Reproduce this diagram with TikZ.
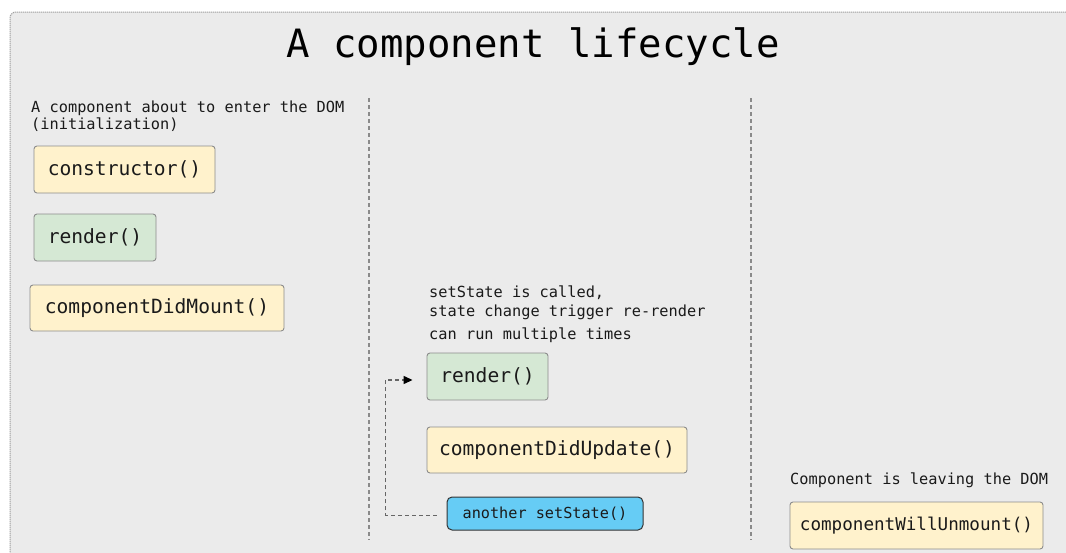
\documentclass[tikz,border=0pt]{standalone}
\usepackage{fontspec}
\setmainfont{DejaVu Sans Mono}
\usetikzlibrary{arrows.meta}
\definecolor{panelbg}{HTML}{EBEBEB}
\definecolor{panelline}{HTML}{A0A0A0}
\definecolor{yfill}{HTML}{FFF2CC}
\definecolor{gfill}{HTML}{D5E8D4}
\definecolor{bfill}{HTML}{66CCF5}
\definecolor{boxline}{HTML}{8C8C8C}
\definecolor{txt}{HTML}{1A1A1A}
\definecolor{divline}{HTML}{8A8A8A}
\tikzset{
  lifebox/.style={draw=boxline, line width=0.9pt, rounded corners=3pt, inner sep=0pt,
    font=\fontsize{19.6}{22}\selectfont, text=txt},
  ybox/.style={lifebox, fill=yfill},
  gbox/.style={lifebox, fill=gfill},
  bbox/.style={draw=black!80, line width=1pt, rounded corners=5pt, fill=bfill, inner sep=0pt,
    font=\fontsize{15.2}{18}\selectfont, text=txt},
  note/.style={anchor=base west, inner sep=0pt, font=\fontsize{15.3}{18}\selectfont, text=txt},
  divider/.style={draw=divline, line width=1.4pt, dash pattern=on 4pt off 3pt},
  loop/.style={draw=black!60, line width=1.3pt, dash pattern=on 4pt off 3pt}
}
\begin{document}
\begin{tikzpicture}[x=1pt,y=-1pt]
\useasboundingbox (0,0) rectangle (1066,552);
\clip (0,0) rectangle (1066,552);
% panel
\fill[panelbg, rounded corners=6pt] (10,570) -- (10,12) -- (1080,12) [sharp corners] -- (1080,570) -- cycle;
\draw[panelline, line width=1pt, dash pattern=on 1.2pt off 0.8pt, rounded corners=6pt] (10,570) -- (10,12) -- (1080,12);
% title
\node[inner sep=0pt, font=\fontsize{39}{44}\selectfont, text=black] (title) at (533,47) {A component lifecycle};
% dividers
\coordinate (d1t) at (369,98); \coordinate (d1b) at (369,540);
\coordinate (d2t) at (751,98); \coordinate (d2b) at (751,540);
\draw[divider] (d1t) -- (d1b);
\draw[divider] (d2t) -- (d2b);
% left column
\node[note] (n1) at (31,112) {A component about to enter the DOM};
\node[note] (n2) at (31,129) {(initialization)};
\node[ybox, minimum width=181pt, minimum height=47pt] (ctor) at (124.5,169.5) {constructor()};
\node[gbox, minimum width=122pt, minimum height=47pt] (r1) at (95,237.5) {render()};
\node[ybox, minimum width=254pt, minimum height=46pt] (dm) at (157,308) {componentDidMount()};
% middle column
\node[note] (m1) at (429,297) {setState is called,};
\node[note] (m2) at (429,316) {state change trigger re-render};
\node[note] (m3) at (429,339) {can run multiple times};
\node[gbox, minimum width=121pt, minimum height=47pt] (r2) at (487.5,376.5) {render()};
\node[ybox, minimum width=260pt, minimum height=46pt] (du) at (557,450) {componentDidUpdate()};
\node[bbox, minimum width=196pt, minimum height=33pt] (ss) at (545,513.5) {another setState()};
\draw[loop, -{Stealth[length=9pt,width=8pt,inset=0pt,color=black]}] ([xshift=-10pt,yshift=-2pt]ss.west) -| ([xshift=-41pt,yshift=-3.5pt]r2.west) -- ([xshift=-14pt,yshift=-3.5pt]r2.west);
% right column
\node[note] (u1) at (790,484) {Component is leaving the DOM};
\node[ybox, font=\fontsize{17.6}{20}\selectfont, minimum width=253pt, minimum height=47pt] (wu) at (916.5,525.5) {componentWillUnmount()};
\end{tikzpicture}
\end{document}
